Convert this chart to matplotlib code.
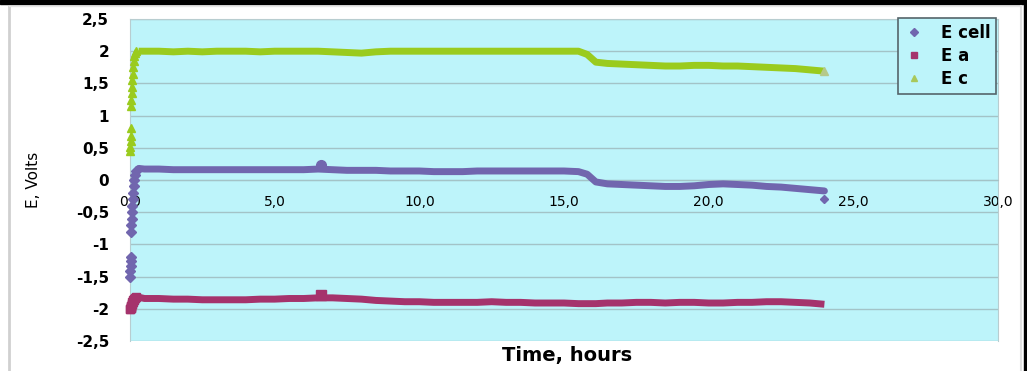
import matplotlib.pyplot as plt
from matplotlib.lines import Line2D
from matplotlib.patches import Rectangle

# start-up points (vertical scatter near t = 0)
t_start = [0.0, 0.0, 0.02, 0.02, 0.03, 0.05, 0.05, 0.06, 0.07, 0.08, 0.1, 0.11, 0.13, 0.15, 0.18, 0.22]
e_cell_start = [-1.5, -1.42, -1.33, -1.25, -1.2, -0.8, -0.7, -0.6, -0.5, -0.4, -0.3, -0.2, -0.1, 0.0, 0.08, 0.14]
e_c_start = [0.45, 0.52, 0.6, 0.68, 0.8, 1.15, 1.25, 1.35, 1.45, 1.55, 1.65, 1.75, 1.85, 1.92, 1.97, 2.0]
e_a_start = [-2.0, -2.0, -1.99, -1.98, -1.97, -1.96, -1.95, -1.93, -1.92, -1.9, -1.89, -1.87, -1.86, -1.85, -1.83, -1.82]

t_hours = [0.3, 0.5, 1, 1.5, 2, 2.5, 3, 3.5, 4, 4.5, 5, 5.5, 6, 6.5,
           7, 7.5, 8, 8.5, 9, 9.5, 10, 10.5, 11, 11.5, 12, 12.5, 13, 13.5, 14, 14.5, 15, 15.5,
           15.8, 16.1,
           16.5, 17, 17.5, 18, 18.5, 19, 19.5, 20, 20.5, 21, 21.5, 22, 22.5, 23, 23.5, 24]

e_cell = [0.18, 0.17, 0.17, 0.16, 0.16, 0.16, 0.16, 0.16, 0.16, 0.16, 0.16, 0.16, 0.16, 0.17,
          0.16, 0.15, 0.15, 0.15, 0.14, 0.14, 0.14, 0.13, 0.13, 0.13, 0.14, 0.14, 0.14, 0.14, 0.14, 0.14, 0.14, 0.13,
          0.09, -0.03,
          -0.06, -0.07, -0.08, -0.09, -0.1, -0.1, -0.09, -0.07, -0.06, -0.07, -0.08, -0.1, -0.11, -0.13, -0.15, -0.17]

e_a = [-1.82, -1.84, -1.84, -1.85, -1.85, -1.86, -1.86, -1.86, -1.86, -1.85, -1.85, -1.84, -1.84, -1.83,
       -1.83, -1.84, -1.85, -1.87, -1.88, -1.89, -1.89, -1.9, -1.9, -1.9, -1.9, -1.89, -1.9, -1.9, -1.91, -1.91, -1.91, -1.92,
       -1.92, -1.92,
       -1.91, -1.91, -1.9, -1.9, -1.91, -1.9, -1.9, -1.91, -1.91, -1.9, -1.9, -1.89, -1.89, -1.9, -1.91, -1.93]

e_c = [2.0, 2.0, 2.0, 1.99, 2.0, 1.99, 2.0, 2.0, 2.0, 1.99, 2.0, 2.0, 2.0, 2.0,
       1.99, 1.98, 1.97, 1.99, 2.0, 2.0, 2.0, 2.0, 2.0, 2.0, 2.0, 2.0, 2.0, 2.0, 2.0, 2.0, 2.0, 2.0,
       1.95, 1.83,
       1.81, 1.8, 1.79, 1.78, 1.77, 1.77, 1.78, 1.78, 1.77, 1.77, 1.76, 1.75, 1.74, 1.73, 1.71, 1.69]

# single stray points: bumps at 6.6 h and the last readings
t_bump = [6.6]
e_cell_bump = [0.23]
e_a_bump = [-1.78]
t_last = [24.0]
e_cell_last = [-0.3]
e_c_last = [1.69]

x_ticks = [0, 5, 10, 15, 20, 25, 30]
x_labels = ['0,0', '5,0', '10,0', '15,0', '20,0', '25,0', '30,0']
y_ticks = [2.5, 2, 1.5, 1, 0.5, 0, -0.5, -1, -1.5, -2, -2.5]
y_labels = ['2,5', '2', '1,5', '1', '0,5', '0', '-0,5', '-1', '-1,5', '-2', '-2,5']

c_cell = '#7166AE'
c_a = '#A5336C'
c_c = '#9ACB1E'
bg = '#BDF4FA'
grid_c = '#A3C3C7'

fig = plt.figure(figsize=(10.27, 3.71), dpi=100)
ax = fig.add_axes([130 / 1027, 1 - 341 / 371, 868 / 1027, 322 / 371])
ax.set_facecolor(bg)

# main traces
ax.plot(t_hours, e_cell, color=c_cell, lw=5, solid_capstyle='round', zorder=3)
ax.plot(t_hours, e_a, color=c_a, lw=5, solid_capstyle='butt', zorder=3)
ax.plot(t_hours, e_c, color=c_c, lw=5, solid_capstyle='butt', zorder=3)

# start-up readings and single points
ax.plot(t_start, e_cell_start, color=c_cell, lw=0, marker='D', ms=5, clip_on=False, zorder=3)
ax.plot(t_start, e_a_start, color=c_a, lw=0, marker='s', ms=6, clip_on=False, zorder=3)
ax.plot(t_start, e_c_start, color=c_c, lw=0, marker='^', ms=6, clip_on=False, zorder=3)
ax.plot(t_bump, e_cell_bump, color=c_cell, lw=0, marker='o', ms=7, zorder=3)
ax.plot(t_bump, e_a_bump, color=c_a, lw=0, marker='s', ms=7, zorder=3)
ax.plot(t_last, e_cell_last, color=c_cell, lw=0, marker='D', ms=4.5, zorder=3)
ax.plot(t_last, e_c_last, color='#B5C98A', lw=0, marker='^', ms=6, zorder=4)

ax.set_xlim(0, 30)
ax.set_ylim(-2.5, 2.5)
ax.set_xticks(x_ticks)
ax.set_xticklabels(x_labels, fontsize=11, fontweight='bold')
ax.set_yticks(y_ticks)
ax.set_yticklabels(y_labels, fontsize=11, fontweight='bold')
ax.tick_params(axis='both', length=0)
ax.tick_params(axis='y', pad=15)
ax.tick_params(axis='x', pad=11)
ax.yaxis.grid(True, color=grid_c, lw=1)
ax.set_axisbelow(True)

# horizontal axis crosses at 0 like in Excel
ax.spines['bottom'].set_position(('data', 0))
ax.spines['bottom'].set_color(grid_c)
for s in ['left', 'top', 'right']:
    ax.spines[s].set_color('#B8CDD0')

ax.set_ylabel('E, Volts', fontsize=11)
ax.yaxis.set_label_coords(-0.103, 0.5)
ax.set_xlabel('Time, hours', fontsize=14, fontweight='bold')
ax.xaxis.set_label_coords(0.503, -0.015)

handles = [Line2D([], [], color=c_cell, marker='D', lw=0, ms=4),
           Line2D([], [], color=c_a, marker='s', lw=0, ms=5),
           Line2D([], [], color='#A9C85A', marker='^', lw=0, ms=5)]
leg = ax.legend(handles, ['E cell', 'E a', 'E c'], loc='upper right', bbox_to_anchor=(0.998, 1.003),
                borderaxespad=0, fancybox=False, facecolor=bg, framealpha=1, edgecolor='#55656A',
                prop={'weight': 'bold', 'size': 12}, handlelength=1.2, labelspacing=0.3,
                borderpad=0.35, handletextpad=1.0)
leg.get_frame().set_linewidth(1.2)

# outer frame of the picture
fig.add_artist(Rectangle((0, 1 - 4 / 371), 1, 4 / 371, transform=fig.transFigure, color='black'))
fig.add_artist(Rectangle((1024 / 1027, 0), 3 / 1027, 1, transform=fig.transFigure, color='black'))
fig.add_artist(Line2D([9 / 1027, 9 / 1027], [0, 1 - 6 / 371], transform=fig.transFigure, color='#D0D0D0', lw=2))
fig.add_artist(Line2D([9 / 1027, 1021 / 1027], [1 - 6 / 371, 1 - 6 / 371], transform=fig.transFigure, color='#E6E6E6', lw=1))
fig.add_artist(Line2D([1021 / 1027, 1021 / 1027], [0, 1 - 6 / 371], transform=fig.transFigure, color='#E0E0E0', lw=1.5))

fig.savefig('out.png', dpi=100)
